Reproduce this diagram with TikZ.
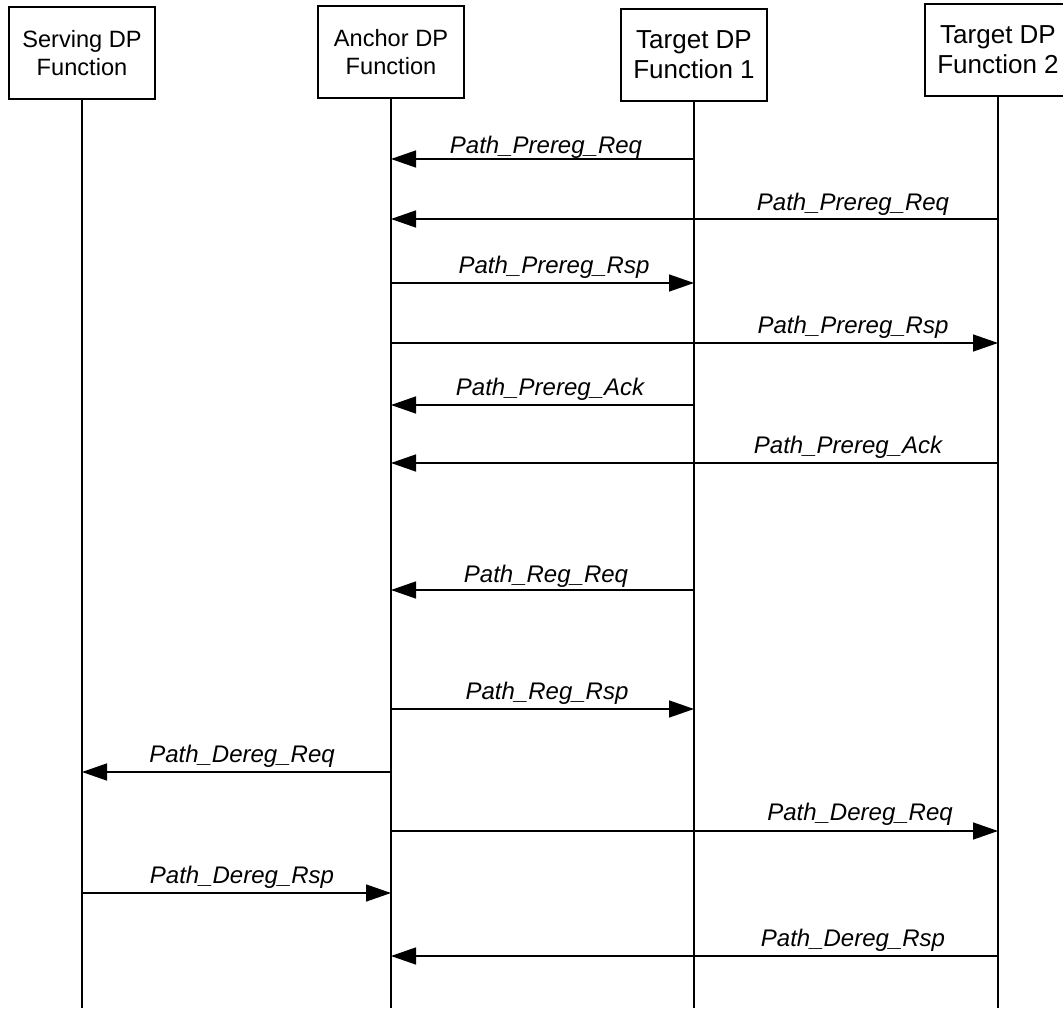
\documentclass[tikz,border=0pt]{standalone}
\usepackage{fontspec}
\setmainfont{Liberation Sans}
\usetikzlibrary{arrows.meta}
\begin{document}
\begin{tikzpicture}[x=0.5pt,y=-0.5pt,
  hdr/.style={draw,line width=0.7pt,minimum width=73pt,minimum height=46pt,align=center,inner sep=0pt},
  hdrsmall/.style={hdr,font=\fontsize{11.8}{13.6}\selectfont},
  hdrbig/.style={hdr,font=\fontsize{13}{15}\selectfont},
  life/.style={line width=0.7pt},
  msg/.style={line width=0.7pt,-{Triangle[length=12.5pt,width=8.5pt]}},
  lbl/.style={font=\fontsize{12}{14}\selectfont\itshape,anchor=base,inner sep=0pt}]
\useasboundingbox (0,0) rectangle (1063,1020);
% headers
\node[hdrsmall] (S) at (82,53) {Serving DP\\Function};
\node[hdrsmall] (A) at (391,52) {Anchor DP\\Function};
\node[hdrbig] (T1) at (694,55) {Target DP\\Function 1};
\node[hdrbig] (T2) at (998,50) {Target DP\\Function 2};
% lifelines
\coordinate (Send) at (82,1008);
\coordinate (Aend) at (391,1008);
\coordinate (T1end) at (694,1008);
\coordinate (T2end) at (998,1008);
\draw[life] (S.south) -- (Send);
\draw[life] (A.south) -- (Aend);
\draw[life] (T1.south) -- (T1end);
\draw[life] (T2.south) -- (T2end);
% messages
\draw[msg] (T1 |- 0,159) -- (A |- 0,159);
\node[lbl] (l1) at (546,154) {Path\_Prereg\_Req};
\draw[msg] (T2 |- 0,219) -- (A |- 0,219);
\node[lbl] (l2) at (853,211) {Path\_Prereg\_Req};
\draw[msg] (A |- 0,283) -- (T1 |- 0,283);
\node[lbl] (l3) at (554,274) {Path\_Prereg\_Rsp};
\draw[msg] (A |- 0,343) -- (T2 |- 0,343);
\node[lbl] (l4) at (853,334) {Path\_Prereg\_Rsp};
\draw[msg] (T1 |- 0,405) -- (A |- 0,405);
\node[lbl] (l5) at (550,396) {Path\_Prereg\_Ack};
\draw[msg] (T2 |- 0,463) -- (A |- 0,463);
\node[lbl] (l6) at (848,453) {Path\_Prereg\_Ack};
\draw[msg] (T1 |- 0,590) -- (A |- 0,590);
\node[lbl] (l7) at (546,582) {Path\_Reg\_Req};
\draw[msg] (A |- 0,709) -- (T1 |- 0,709);
\node[lbl] (l8) at (547,699) {Path\_Reg\_Rsp};
\draw[msg] (A |- 0,772) -- (S |- 0,772);
\node[lbl] (l9) at (242,762) {Path\_Dereg\_Req};
\draw[msg] (A |- 0,831) -- (T2 |- 0,831);
\node[lbl] (l10) at (860,820) {Path\_Dereg\_Req};
\draw[msg] (S |- 0,893) -- (A |- 0,893);
\node[lbl] (l11) at (242,883) {Path\_Dereg\_Rsp};
\draw[msg] (T2 |- 0,956) -- (A |- 0,956);
\node[lbl] (l12) at (853,946) {Path\_Dereg\_Rsp};
\end{tikzpicture}
\end{document}
